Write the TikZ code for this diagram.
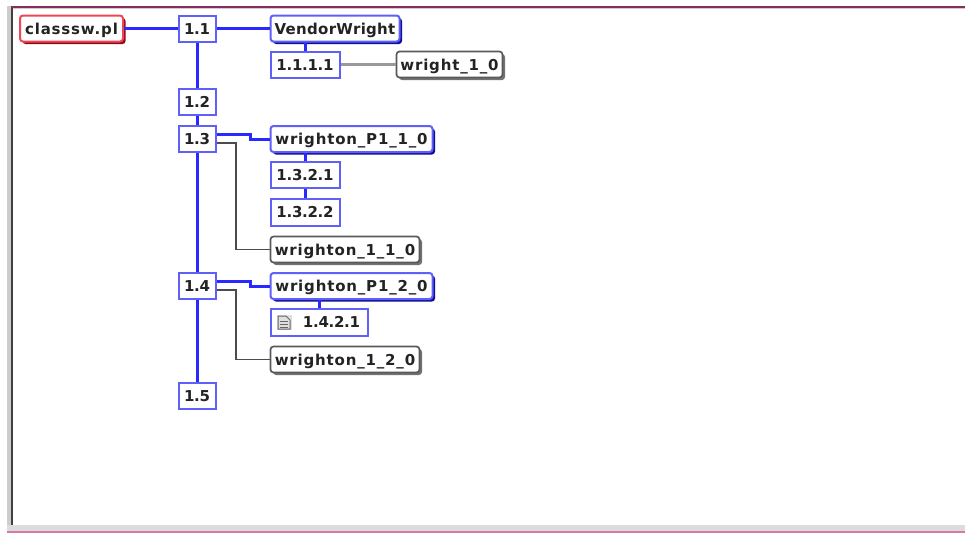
\documentclass[tikz,border=0pt]{standalone}
\usepackage{fontspec}
\setmainfont[LetterSpace=5.5]{DejaVu Sans}
\newfontfamily\tightfont[LetterSpace=-2]{DejaVu Sans}
\newfontfamily\midfont[LetterSpace=2]{DejaVu Sans}
\usetikzlibrary{shadows}
\definecolor{linkblue}{RGB}{40,40,255}
\definecolor{boxblue}{RGB}{95,95,250}
\definecolor{darkblue}{RGB}{15,15,150}
\definecolor{boxred}{RGB}{240,70,85}
\definecolor{darkred}{RGB}{140,10,25}
\definecolor{frameline}{RGB}{135,45,95}
\definecolor{framepink}{RGB}{215,120,170}
\definecolor{framegray}{RGB}{205,205,205}
\definecolor{textgray}{RGB}{35,35,35}
\tikzset{
  x=1pt,y=-1pt,
  base/.style={font=\bfseries\fontsize{15}{17}\selectfont,text=textgray,inner sep=0pt,text height=11pt,text depth=0pt,fill=white,line width=2pt,anchor=center},
  secbox/.style={base,font=\tightfont\bfseries\fontsize{15}{17}\selectfont,draw=boxblue},
  filebox/.style={base,draw=boxred,rounded corners=3pt,general shadow={shadow xshift=2.5pt,shadow yshift=-2.5pt,fill=darkred,rounded corners=3pt}},
  procbox/.style={base,draw=boxblue,rounded corners=3pt,general shadow={shadow xshift=2.5pt,shadow yshift=-2.5pt,fill=darkblue,rounded corners=3pt}},
  leafbox/.style={base,draw=black!65,line width=1.7pt,rounded corners=3pt,general shadow={shadow xshift=2.5pt,shadow yshift=-2.5pt,fill=black!55,rounded corners=3pt}},
  bluelink/.style={draw=linkblue,line width=3pt},
  graylink/.style={draw=black!70,line width=1.8pt},
  lightlink/.style={draw=black!40,line width=2.4pt}
}
\begin{document}
\begin{tikzpicture}
\useasboundingbox (0,0) rectangle (965,533);
% window frame
\fill[white] (0,0) rectangle (965,533);
\fill[framegray] (7,6) rectangle (965,9);
\fill[frameline] (7,6) rectangle (965,7.5);
\fill[framegray] (7,6) rectangle (10.5,531);
\fill[black!75] (10.5,8) rectangle (12.5,527);
\fill[framegray!70] (7,525) rectangle (965,531);
\fill[framepink] (7,531) rectangle (965,533);
% nodes
\node[filebox,minimum width=103pt,minimum height=26pt] (root) at (71.5,28.5) {classsw.pl};
\foreach \n/\y in {1/28.5,2/101.5,3/139,4/286,5/396}{
  \node[secbox,minimum width=37pt,minimum height=26pt] (s\n) at (197,\y) {1.\n};
}
\node[procbox,font=\midfont\bfseries\fontsize{15}{17}\selectfont,minimum width=129pt,minimum height=26pt] (vw) at (335,28.5) {VendorWright};
\node[secbox,minimum width=69pt,minimum height=26pt] (s1111) at (305,64.5) {1.1.1.1};
\node[leafbox,minimum width=106pt,minimum height=26pt] (w10) at (449.5,64.5) {wright\_1\_0};
\node[procbox,minimum width=162pt,minimum height=26pt] (p110) at (351.5,139) {wrighton\_P1\_1\_0};
\node[secbox,minimum width=69pt,minimum height=26pt] (s1321) at (305,175) {1.3.2.1};
\node[secbox,minimum width=69pt,minimum height=27pt] (s1322) at (305,212) {1.3.2.2};
\node[leafbox,minimum width=149pt,minimum height=26pt] (w110) at (345,249.5) {wrighton\_1\_1\_0};
\node[procbox,minimum width=162pt,minimum height=26pt] (p120) at (351.5,286) {wrighton\_P1\_2\_0};
\node[secbox,minimum width=97pt,minimum height=27pt] (s1421) at (319,322) {\hspace*{25pt}1.4.2.1};
\node[leafbox,minimum width=149pt,minimum height=26pt] (w120) at (345,359.5) {wrighton\_1\_2\_0};
% document icon
\fill[black!12] (277,315) rectangle (292,330);
\draw[black!60,line width=1pt] (278,316) -- (286,316) -- (290,320) -- (290,329) -- (278,329) -- cycle;
\draw[black!60,line width=1pt] (280,321) -- (288,321) (280,324) -- (288,324) (280,327) -- (288,327);
% connectors
\draw[bluelink] (root.east) -- (s1.west);
\draw[bluelink] (s1.east) -- (vw.west);
\draw[bluelink] (s1.south) -- (s2.north);
\draw[bluelink] (s2.south) -- (s3.north);
\draw[bluelink] (s3.south) -- (s4.north);
\draw[bluelink] (s4.south) -- (s5.north);
\draw[bluelink] (s1111.north) -- (s1111.north |- vw.south);
\draw[bluelink] (s1321.north) -- (s1321.north |- p110.south);
\draw[bluelink] (s1321.south) -- (s1322.north);
\draw[bluelink] (s1421.north) -- (s1421.north |- p120.south);
\coordinate (a3) at (s3.east |- 0,134);
\coordinate (a4) at (s4.east |- 0,281);
\draw[bluelink] (a3) -- (250,134) -- (250,139) -- (p110.west);
\draw[bluelink] (a4) -- (250,281) -- (250,286) -- (p120.west);
\coordinate (g3) at (s3.east |- 0,143);
\coordinate (g4) at (s4.east |- 0,290);
\draw[graylink] (g3) -- (236,143) |- (w110.west);
\draw[graylink] (g4) -- (236,290) |- (w120.west);
\draw[lightlink] (s1111.east) -- (w10.west);
\end{tikzpicture}
\end{document}
